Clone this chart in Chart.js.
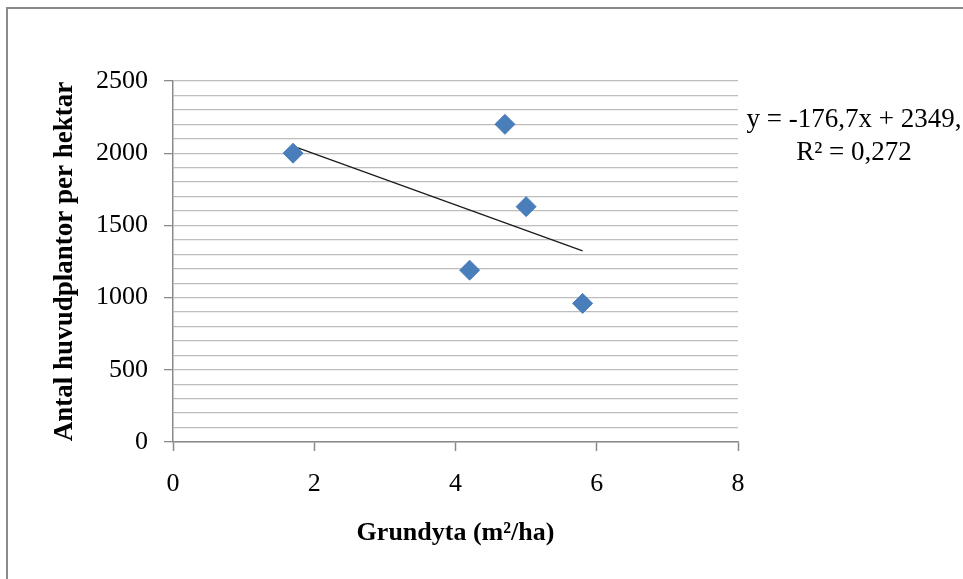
<!DOCTYPE html>
<html>
<head>
<meta charset="utf-8">
<script src="https://cdn.jsdelivr.net/npm/chart.js@4/dist/chart.umd.min.js"></script>
<style>
  body { margin: 0; background: #fff; }
  #wrap { position: relative; width: 963px; height: 579px; overflow: hidden; }
  #frame { position: absolute; left: 6px; top: 7px; width: 1000px; height: 600px;
           border-left: 2px solid #8a8a8a; border-top: 2px solid #8a8a8a; }
  #eq { position: absolute; left: 745px; top: 102px; width: 218px; text-align: center;
        font: 27px "Liberation Serif", serif; line-height: 33px; color: #000; white-space: nowrap; }
  canvas { position: absolute; left: 0; top: 0; }
</style>
</head>
<body>
<div id="wrap">
  <div id="frame"></div>
  <canvas id="chart" width="963" height="579"></canvas>
  <div id="eq">y = -176,7x + 2349,<br>R² = 0,272</div>
</div>
<script>
// Grundyta (m2/ha) vs antal huvudplantor per hektar
const grundyta = [1.7, 4.7, 5.0, 4.2, 5.8];
const plantor = [2000, 2200, 1630, 1190, 960];

// linear trendline endpoints (y = -176,7x + 2349)
const trendX = [1.7, 5.8];
const trendY = [2049, 1324];

const xTicks = [0, 2, 4, 6, 8];
const yTicks = [0, 500, 1000, 1500, 2000, 2500];

const serif = "'Liberation Serif', 'Times New Roman', serif";

const ctx = document.getElementById("chart").getContext("2d");
new Chart(ctx, {
  type: "scatter",
  data: {
    datasets: [
      {
        label: "Antal",
        data: grundyta.map((x, i) => ({ x, y: plantor[i] })),
        pointStyle: "rectRot",
        pointRadius: 10,
        pointHoverRadius: 10,
        backgroundColor: "#4a7ebb",
        borderColor: "#4a7ebb",
        borderWidth: 1,
        order: 1
      },
      {
        label: "Trend",
        type: "line",
        data: trendX.map((x, i) => ({ x, y: trendY[i] })),
        borderColor: "#1a1a1a",
        borderWidth: 1.2,
        pointRadius: 0,
        fill: false,
        order: 2
      }
    ]
  },
  options: {
    responsive: false,
    animation: false,
    layout: { padding: { top: 81, right: 225, bottom: 0, left: 0 } },
    plugins: { legend: { display: false }, tooltip: { enabled: false } },
    scales: {
      x: {
        type: "linear",
        min: 0,
        max: 8,
        afterFit: s => { s.height = 137; },
        afterBuildTicks: s => { s.ticks = xTicks.map(v => ({ value: v })); },
        ticks: { color: "#000", font: { family: serif, size: 26 }, padding: 18 },
        grid: { drawOnChartArea: false, tickLength: 9, tickColor: "#8a8a8a", tickWidth: 1.5 },
        border: { color: "#8a8a8a", width: 1.5 },
        title: {
          display: true,
          text: "Grundyta (m²/ha)",
          color: "#000",
          font: { family: serif, size: 26, weight: "bold" },
          padding: { top: 0, bottom: 30 }
        }
      },
      y: {
        min: 0,
        max: 2500,
        afterFit: s => { s.width = 173; },
        ticks: {
          stepSize: 100,
          autoSkip: false,
          color: "#000",
          font: { family: serif, size: 26 },
          padding: 16,
          callback: v => yTicks.includes(v) ? v : ""
        },
        grid: {
          color: "#bdbdbd",
          lineWidth: 1.3,
          tickLength: 9,
          tickColor: c => yTicks.includes(c.tick.value) ? "#8a8a8a" : "transparent"
        },
        border: { color: "#8a8a8a", width: 1.5 },
        title: {
          display: true,
          text: "Antal huvudplantor per hektar",
          color: "#000",
          font: { family: serif, size: 27, weight: "bold" },
          padding: { top: 49, bottom: 0 }
        }
      }
    }
  }
});
</script>
</body>
</html>
